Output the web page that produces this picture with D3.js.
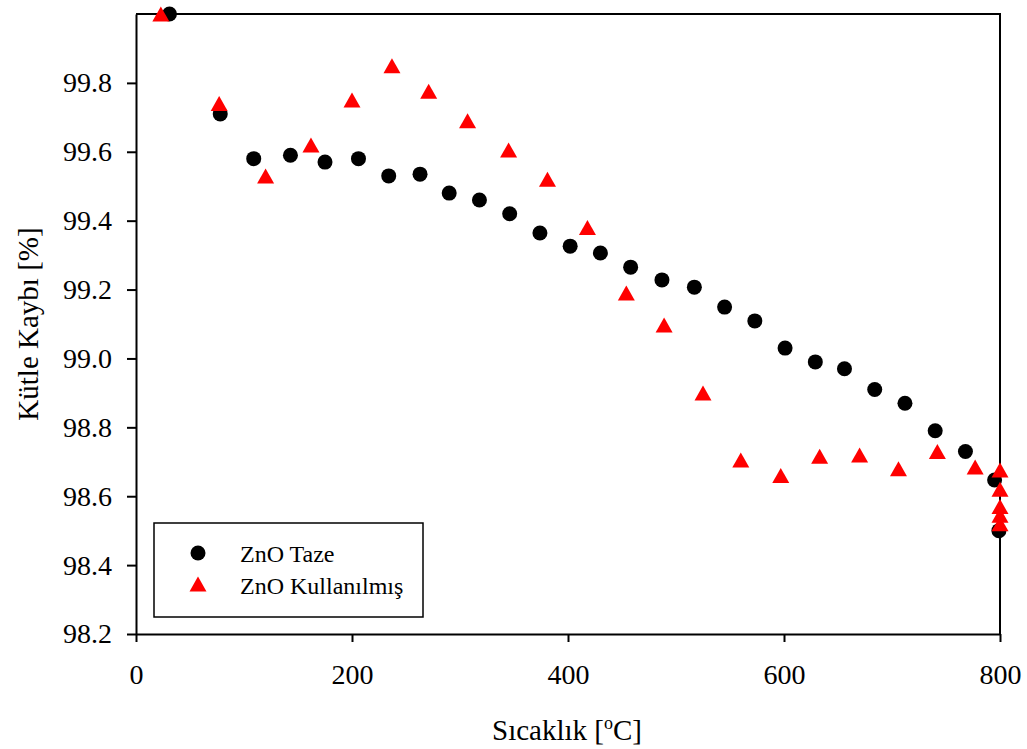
<!DOCTYPE html>
<html>
<head>
<meta charset="utf-8">
<script src="https://cdn.jsdelivr.net/npm/d3@7"></script>
<style>
  body { margin: 0; background: #fff; }
  text { font-family: "Liberation Serif", "Times New Roman", serif; }
</style>
</head>
<body>
<script>
// ZnO Taze (fresh)
var tazeTemp = [31, 78, 109, 143, 175, 206, 234, 263, 290, 318, 346, 374, 402, 430, 458, 487, 517, 545, 573, 601, 629, 656, 684, 712, 740, 768, 795, 799];
var tazeMass = [100.0, 99.71, 99.58, 99.59, 99.57, 99.58, 99.53, 99.535, 99.48, 99.46, 99.42, 99.364, 99.326, 99.306, 99.265, 99.228, 99.207, 99.149, 99.109, 99.03, 98.99, 98.97, 98.91, 98.87, 98.79, 98.73, 98.647, 98.5];

// ZnO Kullanılmış (used)
var usedTemp = [23, 77, 120, 162, 200, 237, 271, 307, 345, 381, 418, 454, 489, 525, 560, 597, 633, 670, 706, 742, 777, 800, 800, 800, 800, 800];
var usedMass = [100.0, 99.74, 99.53, 99.62, 99.75, 99.85, 99.776, 99.69, 99.605, 99.52, 99.38, 99.19, 99.097, 98.90, 98.705, 98.66, 98.716, 98.72, 98.68, 98.73, 98.685, 98.676, 98.62, 98.57, 98.545, 98.52];

var xTicks = [0, 200, 400, 600, 800];
var yTicks = [98.2, 98.4, 98.6, 98.8, 99.0, 99.2, 99.4, 99.6, 99.8];
var seriesNames = ['ZnO Taze', 'ZnO Kullanılmış'];

var w = 1027;
var h = 749;
var pLeft = 136, pRight = 1000, pTop = 14, pBottom = 634;

var svg = d3.select('body')
  .append('svg')
  .attr('width', w)
  .attr('height', h);

var xScale = d3.scaleLinear()
  .domain([0, 800])
  .range([pLeft, pRight]);

var yScale = d3.scaleLinear()
  .domain([98.2, 100.0])
  .range([pBottom, pTop]);

// frame (top and right)
svg.append('path')
  .attr('d', 'M' + pLeft + ',' + pTop + 'H' + pRight + 'V' + pBottom)
  .attr('fill', 'none')
  .attr('stroke', 'black')
  .attr('stroke-width', 2);

var xAxis = d3.axisBottom(xScale)
  .tickValues(xTicks)
  .tickFormat(d3.format('d'))
  .tickSizeInner(8)
  .tickSizeOuter(0)
  .tickPadding(22);

var yAxis = d3.axisLeft(yScale)
  .tickValues(yTicks)
  .tickFormat(d3.format('.1f'))
  .tickSizeInner(9)
  .tickSizeOuter(0)
  .tickPadding(15);

var gx = svg.append('g')
  .attr('transform', 'translate(0,' + pBottom + ')')
  .call(xAxis);

var gy = svg.append('g')
  .attr('transform', 'translate(' + pLeft + ',0)')
  .call(yAxis);

[gx, gy].forEach(function(g){
  g.attr('font-size', null).attr('font-family', null);
  g.selectAll('path, line').attr('stroke', 'black').attr('stroke-width', 2);
  g.selectAll('text')
    .attr('fill', 'black')
    .style('font-size', '28px')
    .style('font-family', '"Liberation Serif", serif');
});

// axis titles
var xt = svg.append('text')
  .attr('x', 567)
  .attr('y', 740)
  .attr('text-anchor', 'middle')
  .style('font-size', '29px');
xt.append('tspan').text('Sıcaklık [');
xt.append('tspan').style('font-size', '18px').attr('dy', -11).text('o');
xt.append('tspan').attr('dy', 11).text('C]');

svg.append('text')
  .attr('transform', 'translate(38,' + 324 + ') rotate(-90)')
  .attr('text-anchor', 'middle')
  .style('font-size', '29px')
  .text('Kütle Kaybı [%]');

var tazeData = tazeTemp.map(function(t, i){ return {t: t, m: tazeMass[i]}; });
var usedData = usedTemp.map(function(t, i){ return {t: t, m: usedMass[i]}; });

// triangle centred on its bounding box, like the original plot's markers
var boxTriangle = {
  draw: function(ctx, size){
    var hw = 8.5, hh = 7.5;
    ctx.moveTo(0, -hh);
    ctx.lineTo(hw, hh);
    ctx.lineTo(-hw, hh);
    ctx.closePath();
  }
};
var tri = d3.symbol().type(boxTriangle);

svg.append('g').selectAll('circle')
  .data(tazeData)
  .enter()
  .append('circle')
  .attr('cx', function(d){ return xScale(d.t); })
  .attr('cy', function(d){ return yScale(d.m); })
  .attr('r', 7.5)
  .attr('fill', 'black');

svg.append('g').selectAll('path')
  .data(usedData)
  .enter()
  .append('path')
  .attr('d', tri)
  .attr('transform', function(d){
    return 'translate(' + xScale(d.t) + ',' + yScale(d.m) + ')';
  })
  .attr('fill', 'red');

// legend
var lg = svg.append('g');
lg.append('rect')
  .attr('x', 154).attr('y', 523)
  .attr('width', 269).attr('height', 94)
  .attr('fill', 'white')
  .attr('stroke', 'black')
  .attr('stroke-width', 1.5);
lg.append('circle')
  .attr('cx', 198).attr('cy', 553).attr('r', 7.5)
  .attr('fill', 'black');
lg.append('path')
  .attr('d', tri)
  .attr('transform', 'translate(198,584)')
  .attr('fill', 'red');
lg.selectAll('text.lab')
  .data(seriesNames)
  .enter()
  .append('text')
  .attr('class', 'lab')
  .attr('x', 240)
  .attr('y', function(d, i){ return 562 + i * 32; })
  .style('font-size', '24px')
  .text(function(d){ return d; });
</script>
</body>
</html>
